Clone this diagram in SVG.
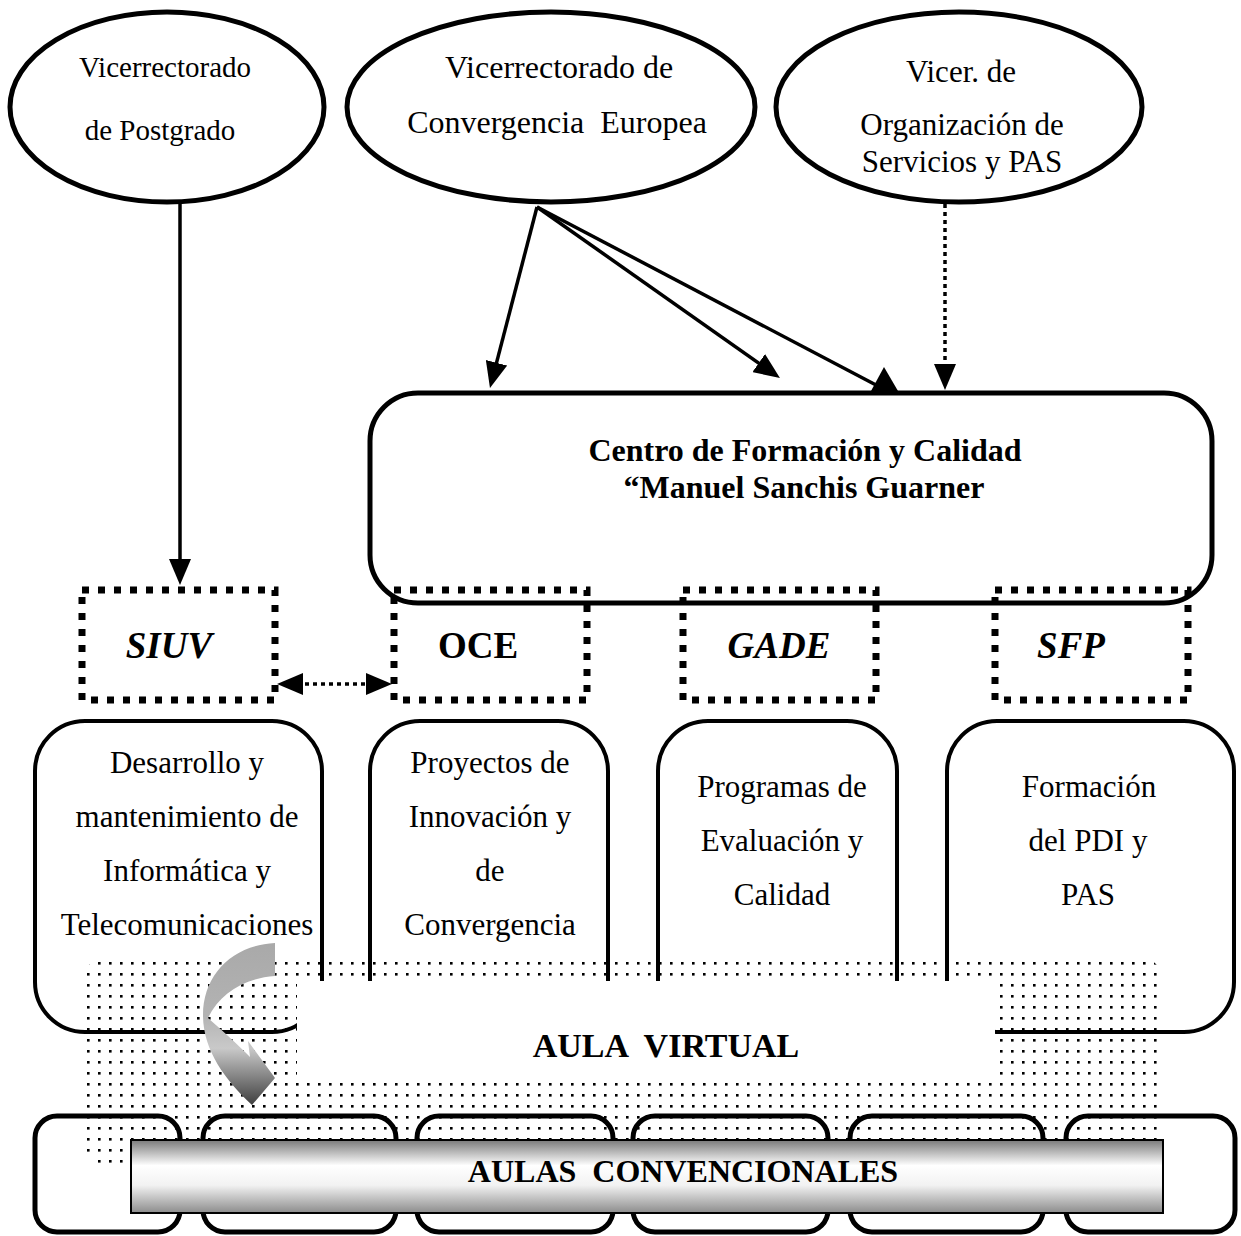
<svg xmlns="http://www.w3.org/2000/svg" width="1241" height="1236" viewBox="0 0 1241 1236">
<style>
  text { font-family: "Liberation Serif", "Times New Roman", serif; fill: #000; text-anchor: middle; }
  .t29 { font-size: 29px; }
  .t31 { font-size: 31px; }
  .t32 { font-size: 32px; }
  .b { font-weight: bold; }
  .bi { font-weight: bold; font-style: italic; font-size: 37px; }
  .ell { fill: #fff; stroke: #000; stroke-width: 5; }
  .big { fill: #fff; stroke: #000; stroke-width: 5; }
  .box { fill: #fff; stroke: #000; stroke-width: 4; }
  .dbox { fill: none; stroke: #000; stroke-width: 7; stroke-dasharray: 7 9; }
  .sbox { fill: #fff; stroke: #000; stroke-width: 5; }
  .conn { stroke: #000; stroke-width: 3.5; fill: none; }
  .dotted { stroke-dasharray: 4 4; }
</style>
<defs>
  <marker id="ah" markerUnits="userSpaceOnUse" markerWidth="26" markerHeight="22" refX="6" refY="11" orient="auto-start-reverse" viewBox="0 0 26 22">
    <path d="M0,0 L26,11 L0,22 Z" fill="#000"/>
  </marker>
  <pattern id="dots" width="11" height="11" patternUnits="userSpaceOnUse" x="83" y="958">
    <rect x="4" y="4" width="2.6" height="2.6" fill="#000"/>
  </pattern>
  <linearGradient id="curveGrad" gradientUnits="userSpaceOnUse" x1="0" y1="943" x2="0" y2="1105">
    <stop offset="0" stop-color="#a9a9a9"/>
    <stop offset="0.45" stop-color="#b3b3b3"/>
    <stop offset="0.65" stop-color="#c9c9c9"/>
    <stop offset="1" stop-color="#3f3f3f"/>
  </linearGradient>
  <linearGradient id="barGrad" x1="0" y1="0" x2="0" y2="1">
    <stop offset="0" stop-color="#7a7a7a"/>
    <stop offset="0.35" stop-color="#ffffff"/>
    <stop offset="0.62" stop-color="#f2f2f2"/>
    <stop offset="1" stop-color="#8c8c8c"/>
  </linearGradient>
</defs>

<g id="vr-postgrado">
  <ellipse class="ell" cx="167" cy="107" rx="157" ry="95"/>
  <text class="t29" x="165" y="77">Vicerrectorado</text>
  <text class="t29" x="160" y="140">de Postgrado</text>
</g>
<g id="vr-convergencia">
  <ellipse class="ell" cx="551" cy="107" rx="204" ry="95"/>
  <text class="t32" x="559" y="78">Vicerrectorado de</text>
  <text class="t32" x="557" y="133" xml:space="preserve">Convergencia  Europea</text>
</g>
<g id="vr-organizacion">
  <ellipse class="ell" cx="959" cy="107" rx="183" ry="95"/>
  <text class="t31" x="961" y="82">Vicer. de</text>
  <text class="t31" x="962" y="135">Organización de</text>
  <text class="t31" x="962" y="172">Servicios y PAS</text>
</g>

<g id="centro">
  <rect class="big" x="370" y="393" width="842" height="210" rx="48" ry="48"/>
  <text class="t32 b" x="805" y="461">Centro de Formación y Calidad</text>
  <text class="t32 b" x="804" y="498">“Manuel Sanchis Guarner</text>
</g>

<g id="siuv">
  <rect class="dbox" x="82" y="590" width="193" height="110"/>
  <text class="bi" x="169" y="658">SIUV</text>
</g>
<g id="oce">
  <rect class="dbox" x="394" y="590" width="193" height="110"/>
  <text class="b" style="font-size:37px" x="478" y="658">OCE</text>
</g>
<g id="gade">
  <rect class="dbox" x="683" y="590" width="193" height="110"/>
  <text class="bi" x="779" y="658">GADE</text>
</g>
<g id="sfp">
  <rect class="dbox" x="995" y="590" width="193" height="110"/>
  <text class="bi" x="1071" y="658">SFP</text>
</g>

<g id="desarrollo">
  <rect class="box" x="35" y="721" width="287" height="311" rx="50" ry="50"/>
  <text class="t31" x="187" y="773">Desarrollo y</text>
  <text class="t31" x="187" y="827">mantenimiento de</text>
  <text class="t31" x="187" y="881">Informática y</text>
  <text class="t31" x="187" y="935">Telecomunicaciones</text>
</g>
<g id="proyectos">
  <rect class="box" x="370" y="721" width="238" height="311" rx="50" ry="50"/>
  <text class="t31" x="490" y="773">Proyectos de</text>
  <text class="t31" x="490" y="827">Innovación y</text>
  <text class="t31" x="490" y="881">de</text>
  <text class="t31" x="490" y="935">Convergencia</text>
</g>
<g id="programas">
  <rect class="box" x="658" y="721" width="239" height="311" rx="50" ry="50"/>
  <text class="t31" x="782" y="797">Programas de</text>
  <text class="t31" x="782" y="851">Evaluación y</text>
  <text class="t31" x="782" y="905">Calidad</text>
</g>
<g id="formacion">
  <rect class="box" x="947" y="721" width="287" height="311" rx="50" ry="50"/>
  <text class="t31" x="1089" y="797">Formación</text>
  <text class="t31" x="1088" y="851">del PDI y</text>
  <text class="t31" x="1088" y="905">PAS</text>
</g>

<g id="aulas-fila">
  <rect class="sbox" x="35" y="1116" width="145" height="116" rx="22" ry="22"/>
  <rect class="sbox" x="203" y="1116" width="193" height="116" rx="22" ry="22"/>
  <rect class="sbox" x="417" y="1116" width="196" height="116" rx="22" ry="22"/>
  <rect class="sbox" x="633" y="1116" width="195" height="116" rx="22" ry="22"/>
  <rect class="sbox" x="850" y="1116" width="193" height="116" rx="22" ry="22"/>
  <rect class="sbox" x="1066" y="1116" width="169" height="116" rx="22" ry="22"/>
</g>

<g id="aula-virtual">
  <rect x="83" y="958" width="1080" height="207" rx="22" ry="22" fill="url(#dots)"/>
  <rect x="297" y="981" width="698" height="98" fill="#fff"/>
  <text class="b" style="font-size:34px" x="666" y="1057" xml:space="preserve">AULA  VIRTUAL</text>
</g>

<g id="aulas-convencionales">
  <rect x="131" y="1140" width="1032" height="73" fill="url(#barGrad)" stroke="#000" stroke-width="2"/>
  <text class="t32 b" x="683" y="1182" xml:space="preserve">AULAS  CONVENCIONALES</text>
</g>

<g id="connectors">
  <line class="conn" x1="180" y1="202" x2="180" y2="565" marker-end="url(#ah)"/>
  <line class="conn" x1="537" y1="207" x2="495" y2="368.6" marker-end="url(#ah)"/>
  <line class="conn" x1="537" y1="207" x2="763.6" y2="366.5" marker-end="url(#ah)"/>
  <line class="conn" x1="537" y1="207" x2="876" y2="385"/>
  <polygon points="871,391 884,367 898,391" fill="#000"/>
  <line class="conn dotted" x1="945" y1="204" x2="945" y2="370" marker-end="url(#ah)"/>
  <line class="conn dotted" x1="297" y1="684" x2="372" y2="684" marker-start="url(#ah)" marker-end="url(#ah)"/>
  <path d="M275,943 L275,976 C245,978 220,993 208,1018 C222,1030 238,1045 250,1057 L248,1041 L275,1078 L252,1105 C225,1080 203,1050 203,1015 C203,975 232,945 275,943 Z" fill="url(#curveGrad)"/>
</g>
</svg>
